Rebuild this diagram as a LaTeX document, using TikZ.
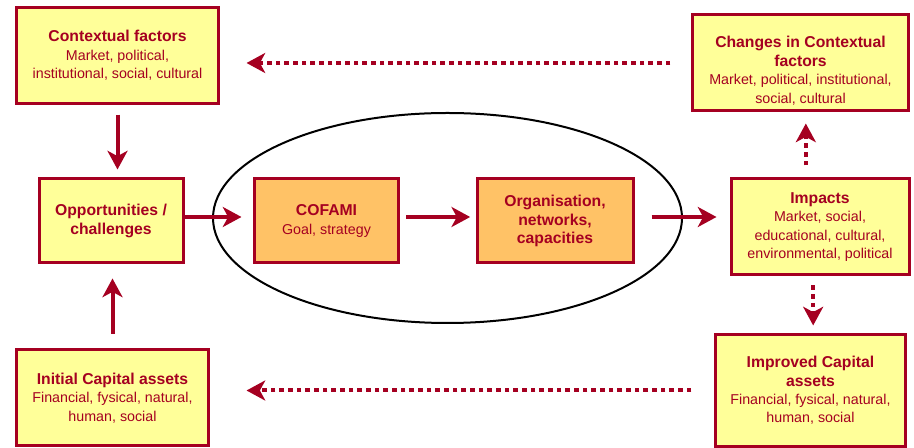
\documentclass[tikz,border=0pt]{standalone}
\usepackage{fontspec}
\setmainfont{Liberation Sans}
\usetikzlibrary{arrows.meta}

\definecolor{cofred}{HTML}{A50021}
\definecolor{cofyellow}{HTML}{FFFF99}
\definecolor{coforange}{HTML}{FFC266}
\newcommand{\hd}[1]{{\fontsize{11.8pt}{14pt}\selectfont\bfseries #1}}

\begin{document}
\begin{tikzpicture}[x=0.75pt, y=-0.75pt,
    factorbox/.style={draw=cofred, line width=2.25pt, fill=cofyellow, text=cofred,
      align=center, inner sep=0pt, font=\fontsize{10.7pt}{13.8pt}\selectfont},
    corebox/.style={factorbox, fill=coforange},
    flow/.style={draw=cofred, line width=3pt,
      -{Stealth[length=14pt, width=15pt, inset=4pt]}},
    feedback/.style={flow, dash pattern=on 3.5pt off 3pt}]

    \useasboundingbox (0,0) rectangle (914,448);

    % 1) The big ellipse round the COFAMI core
    \draw[line width=1.5pt] (447.5,218) ellipse [x radius=234.5, y radius=105];

    % 2) Boxes on the left
    \node[factorbox, minimum width=150.8pt, minimum height=71.3pt] (ctx) at (117.5,55.5)
      {\hd{Contextual factors}\\Market, political,\\institutional, social, cultural};
    \node[factorbox, minimum width=108pt, minimum height=63pt] (opp) at (111,221)
      {\hd{Opportunities /}\\\hd{challenges}};
    \node[factorbox, minimum width=143.3pt, minimum height=72pt] (init) at (112.5,398)
      {\hd{Initial Capital assets}\\Financial, fysical, natural,\\human, social};

    % 3) The core boxes
    \node[corebox, minimum width=107.3pt, minimum height=63pt] (cofami) at (326.5,221)
      {\hd{COFAMI}\\Goal, strategy};
    \node[corebox, minimum width=117pt, minimum height=63pt] (org) at (555,221)
      {\hd{Organisation,}\\\hd{networks,}\\\hd{capacities}};

    % 4) Boxes on the right (text of chg sits a little low)
    \node[factorbox, minimum width=161.3pt, minimum height=72pt] (chg) at (800.5,63)
      {\rule{0pt}{20pt}\hd{Changes in Contextual}\\\hd{factors}\\Market, political, institutional,\\social, cultural};
    \node[factorbox, minimum width=133.5pt, minimum height=72pt] (imp) at (820,227)
      {\hd{Impacts}\\Market, social,\\educational, cultural,\\environmental, political};
    \node[factorbox, minimum width=141.8pt, minimum height=83.3pt] (impr) at (810.5,390.5)
      {\hd{Improved Capital}\\\hd{assets}\\Financial, fysical, natural,\\human, social};

    % 5) Solid arrows
    \draw[flow, shorten <=7.5pt, shorten >=6pt] (ctx.south) -- (ctx.south |- opp.north);
    \draw[flow, shorten <=11pt, shorten >=10.5pt] (init.north) -- (init.north |- opp.south);
    \draw[flow, shorten >=9pt] ([yshift=3pt]opp.east) -- ([yshift=3pt]cofami.west);
    \draw[flow, shorten <=5pt, shorten >=4pt] ([yshift=3pt]cofami.east) -- ([yshift=3pt]org.west);
    \draw[flow, shorten <=12.75pt, shorten >=9.75pt] ([yshift=3pt]org.east) -- ([yshift=3pt]org.east -| imp.west);

    % 6) Dotted feedback arrows
    \draw[feedback, shorten <=9pt, shorten >=8.25pt] ([xshift=4pt]imp.north -| chg.south) -- ([xshift=4pt]chg.south);
    \draw[feedback, shorten <=6.75pt, shorten >=6pt] ([xshift=2pt]imp.south -| impr.north) -- ([xshift=2pt]impr.north);
    \draw[feedback, shorten <=15.75pt, shorten >=20.25pt] (chg.west) -- (chg.west -| ctx.east);
    \draw[feedback, shorten <=17.25pt, shorten >=27.75pt] (impr.west) -- (impr.west -| init.east);
\end{tikzpicture}
\end{document}
